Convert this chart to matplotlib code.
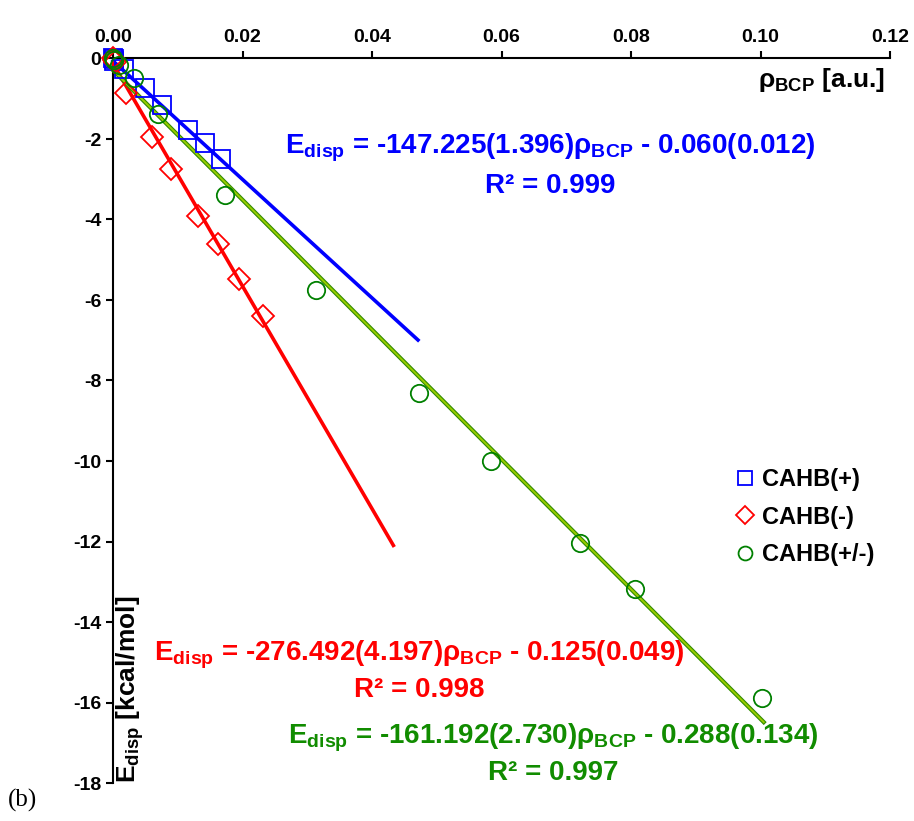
import numpy as np
import matplotlib
matplotlib.use('Agg')
import matplotlib.pyplot as plt

plt.rcParams['font.family'] = ['Liberation Sans', 'DejaVu Sans']
plt.rcParams['font.weight'] = 'bold'
plt.rcParams['mathtext.fontset'] = 'custom'
plt.rcParams['mathtext.rm'] = 'Liberation Sans:bold'
plt.rcParams['mathtext.bf'] = 'Liberation Sans:bold'
plt.rcParams['mathtext.it'] = 'Liberation Sans:bold:italic'
plt.rcParams['axes.unicode_minus'] = False

# data
rho_pos = [0.0, 0.0001, 0.0002, 0.0017, 0.0049, 0.0076, 0.0116, 0.0142, 0.0167]
e_pos = [0.0, -0.02, -0.05, -0.25, -0.73, -1.16, -1.78, -2.11, -2.49]

rho_neg = [0.0, 0.0001, 0.0003, 0.0020, 0.0061, 0.0089, 0.0131, 0.0162, 0.0195, 0.0231]
e_neg = [0.0, -0.03, -0.08, -0.86, -1.95, -2.75, -3.91, -4.61, -5.48, -6.40]

rho_all = [0.0, 0.0001, 0.0010, 0.0032, 0.0069, 0.0173, 0.0314, 0.0473, 0.0584, 0.0722, 0.0806, 0.1003]
e_all = [0.0, -0.03, -0.16, -0.49, -1.39, -3.40, -5.76, -8.32, -10.01, -12.04, -13.18, -15.90]

# fits (slope, intercept, x end of drawn line)
fit_pos = (-147.225, -0.060, 0.0471)
fit_neg = (-276.492, -0.125, 0.0433)
fit_all = (-161.192, -0.288, 0.1005)

fig = plt.figure(figsize=(9.14, 8.21), dpi=100)
W, H = 914.0, 821.0
ax = fig.add_axes([113 / W, 1 - 783 / H, (890 - 113) / W, (783 - 58.5) / H])

ax.set_xlim(0, 0.12)
ax.set_ylim(-18, 0)
ax.set_xticks(np.arange(0, 0.121, 0.02))
ax.set_xticklabels(['%.2f' % v for v in np.arange(0, 0.121, 0.02)])
ax.set_yticks(np.arange(-18, 1, 2))
ax.set_yticklabels(['%d' % v for v in np.arange(-18, 1, 2)])
ax.xaxis.tick_top()
ax.spines['right'].set_visible(False)
ax.spines['bottom'].set_visible(False)
for s in ['top', 'left']:
    ax.spines[s].set_linewidth(1.5)
ax.tick_params(axis='both', direction='out', length=5, width=1.5, labelsize=14)
ax.tick_params(axis='x', pad=4)
for lab in ax.get_xticklabels() + ax.get_yticklabels():
    lab.set_fontweight('bold')

# fit lines
x = np.array([0, fit_pos[2]])
ax.plot(x, fit_pos[0] * x + fit_pos[1], color='#0000ff', lw=2.6, clip_on=False, zorder=3)
x = np.array([0, fit_neg[2]])
ax.plot(x, fit_neg[0] * x + fit_neg[1], color='#ff0000', lw=2.6, clip_on=False, zorder=3)
x = np.array([0, fit_all[2]])
ax.plot(x, fit_all[0] * x + fit_all[1], color='#2f8a00', lw=3.0, clip_on=False, zorder=3)
ax.plot(x, fit_all[0] * x + fit_all[1], color='#99cc00', lw=1.4, clip_on=False, zorder=3)

# points
ax.plot(rho_pos, e_pos, ls='none', marker='s', ms=12.5, mfc='none', mec='#0000ff', mew=1.3,
        clip_on=False, zorder=4, label='CAHB(+)')
ax.plot(rho_neg, e_neg, ls='none', marker='D', ms=11.5, mfc='none', mec='#ff0000', mew=1.3,
        clip_on=False, zorder=4, label='CAHB(-)')
ax.plot(rho_all, e_all, ls='none', marker='o', ms=12.5, mfc='none', mec='#008000', mew=1.3,
        clip_on=False, zorder=4, label='CAHB(+/-)')

leg = ax.legend(loc='upper left', bbox_to_anchor=(736 / W, 1 - 468 / H),
                bbox_transform=fig.transFigure, frameon=False, fontsize=17,
                markerscale=0.8, handlelength=0.8, handletextpad=0.3, labelspacing=0.62,
                borderaxespad=0, borderpad=0)
for t in leg.get_texts():
    t.set_fontweight('bold')

# axis titles
fig.text(822 / W, 1 - 80 / H, r'ρ$_\mathbf{BCP}$ [a.u.]', ha='center', va='center',
         fontsize=19, fontweight='bold')
fig.text(130 / W, 1 - 783 / H, r'E$_\mathbf{disp}$ [kcal/mol]', ha='center', va='bottom',
         rotation=90, fontsize=19, fontweight='bold')

# equations
eqs = [
    ('#0000ff', 550, 148, r'E$_\mathbf{disp}$ = -147.225(1.396)ρ$_\mathbf{BCP}$ - 0.060(0.012)', 186, 'R² = 0.999'),
    ('#ff0000', 419, 655, r'E$_\mathbf{disp}$ = -276.492(4.197)ρ$_\mathbf{BCP}$ - 0.125(0.049)', 690, 'R² = 0.998'),
    ('#118c00', 553, 738, r'E$_\mathbf{disp}$ = -161.192(2.730)ρ$_\mathbf{BCP}$ - 0.288(0.134)', 773, 'R² = 0.997'),
]
for c, xc, y1, t1, y2, t2 in eqs:
    fig.text(xc / W, 1 - y1 / H, t1, color=c, ha='center', va='center', fontsize=20, fontweight='bold')
    fig.text(xc / W, 1 - y2 / H, t2, color=c, ha='center', va='center', fontsize=20, fontweight='bold')

fig.text(8 / W, 1 - 800 / H, '(b)', family='Liberation Serif', fontweight='normal',
         fontsize=18, ha='left', va='center')

fig.savefig('out.png', dpi=100)
